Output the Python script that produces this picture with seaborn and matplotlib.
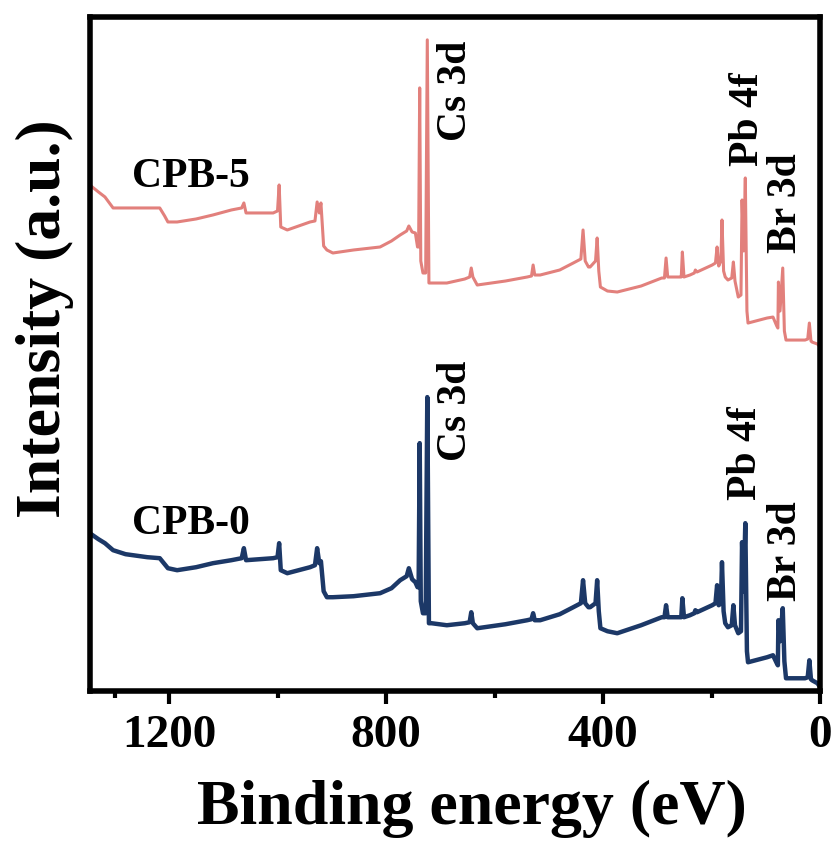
import numpy as np
import pandas as pd
import matplotlib
matplotlib.use("Agg")
import matplotlib.pyplot as plt
from matplotlib.ticker import FixedLocator
import seaborn as sns

# Survey XPS spectra, binding energy (eV) and stacked intensity (a.u.)
binding_energy = [
    1346, 1330, 1318, 1303, 1280, 1240, 1217, 1208, 1202, 1185, 1150, 1119,
    1085, 1066, 1062, 1058, 1008, 1000, 997, 994, 982, 940, 931, 927, 923,
    920, 915, 909, 898, 860, 811, 790, 774, 762, 758, 752, 746, 742, 740,
    738, 736, 732, 727, 724, 721, 716, 688, 655, 646, 643, 640, 632, 580,
    540, 532, 529, 526, 516, 480, 455, 441, 437, 433, 427, 424, 414, 411,
    408, 405, 392, 374, 330, 292, 287, 284, 281, 258, 256, 254, 251, 240,
    232, 230, 227, 199, 193, 190, 187, 183, 181, 178, 175, 170, 163, 160,
    157, 151, 146, 144, 141, 138, 135, 133, 98, 87, 80, 78, 77, 74, 69,
    66, 63, 28, 23, 20, 17, 15, 5, 0,
]
cpb0_intensity = [
    158, 152, 148, 141, 137, 134, 133, 127, 123, 121, 124, 128,
    131, 133, 143, 131, 133, 134, 148, 121, 118, 124, 126, 143, 128,
    130, 100, 94, 94, 95, 98, 103, 111, 115, 123, 112, 109, 104, 104,
    248, 90, 78, 78, 294, 68, 68, 66, 68, 69, 79, 68, 63, 67,
    71, 72, 78, 71, 71, 77, 84, 88, 111, 88, 84, 84, 88, 111,
    80, 63, 60, 58, 66, 74, 74, 86, 74, 74, 74, 93, 74, 76,
    78, 81, 79, 86, 88, 106, 86, 88, 129, 80, 68, 64, 66, 86,
    66, 58, 60, 149, 100, 168, 40, 29, 34, 36, 28, 26, 71, 50, 83,
    30, 13, 13, 14, 31, 12, 11, 8, 4,
]
cpb5_intensity = [
    506, 499, 494, 483, 483, 483, 483, 475, 469, 469, 472, 476,
    481, 483, 488, 478, 478, 480, 506, 464, 461, 469, 470, 489, 478,
    488, 445, 441, 438, 441, 444, 450, 456, 460, 465, 459, 458, 444, 444,
    603, 430, 418, 418, 651, 408, 408, 408, 412, 414, 423, 414, 406, 410,
    414, 415, 426, 416, 416, 421, 428, 432, 461, 430, 424, 424, 430, 453,
    420, 404, 400, 399, 405, 413, 413, 433, 414, 414, 414, 439, 414, 416,
    418, 421, 419, 426, 428, 444, 425, 430, 471, 420, 414, 411, 413, 429,
    410, 394, 396, 491, 440, 513, 380, 368, 373, 374, 365, 363, 409, 380, 423,
    360, 351, 351, 352, 368, 350, 349, 347, 344,
]

colors = {"CPB-0": "#1C3867", "CPB-5": "#E2807C"}
widths = {"CPB-0": 3.2, "CPB-5": 2.2}

major_ticks = [1200, 800, 400, 0]
minor_ticks = [1300, 1000, 600, 200]

# Peak assignments: (label, energy, height)
peak_labels = [
    ("Cs 3d", 671, 600), ("Pb 4f", 133, 572), ("Br 3d", 63, 488),
    ("Cs 3d", 671, 280), ("Pb 4f", 136, 238), ("Br 3d", 63, 140),
]
sample_labels = [("CPB-5", 1159, 514), ("CPB-0", 1159, 167)]

n = len(binding_energy)
df = pd.DataFrame({
    "Binding energy": binding_energy * 2,
    "Intensity": cpb0_intensity + cpb5_intensity,
    "Sample": ["CPB-0"] * n + ["CPB-5"] * n,
})

sns.set_theme(style="ticks")
plt.rcParams["font.family"] = ["Liberation Serif", "DejaVu Serif"]
plt.rcParams["font.weight"] = "bold"
plt.rcParams["text.color"] = "black"
plt.rcParams["axes.labelcolor"] = "black"
plt.rcParams["xtick.color"] = "black"
plt.rcParams["ytick.color"] = "black"

fig = plt.figure(figsize=(8.31, 8.42), dpi=100)
ax = fig.add_axes([0.108, 0.179, 0.879, 0.801])

for s in ["CPB-5", "CPB-0"]:
    sns.lineplot(
        data=df[df["Sample"] == s], x="Binding energy", y="Intensity",
        color=colors[s], linewidth=widths[s], estimator=None, sort=False,
        ax=ax, legend=False,
    )

ax.set_xlim(1346, 0)
ax.set_ylim(0, 674)

ax.xaxis.set_major_locator(FixedLocator(major_ticks))
ax.xaxis.set_minor_locator(FixedLocator(minor_ticks))
ax.set_yticks([])
ax.tick_params(axis="x", which="major", direction="out", length=9, width=3,
               labelsize=34, pad=8, colors="black")
ax.tick_params(axis="x", which="minor", direction="out", length=5, width=3,
               colors="black")
for lab in ax.get_xticklabels():
    lab.set_fontweight("bold")

for side in ["left", "right", "top", "bottom"]:
    ax.spines[side].set_visible(True)
    ax.spines[side].set_linewidth(4)
    ax.spines[side].set_color("black")

ax.set_xlabel("Binding energy (eV)", fontsize=46, fontweight="bold",
              va="center", color="black")
ax.xaxis.set_label_coords(0.523, -0.174)
ax.set_ylabel("Intensity (a.u.)", fontsize=46, fontweight="bold",
              va="center", color="black")
ax.yaxis.set_label_coords(-0.062, 0.553)

for text, e, h in peak_labels:
    ax.text(e, h, text, rotation=90, fontsize=30, fontweight="bold",
            ha="center", va="center", color="black")
for text, e, h in sample_labels:
    ax.text(e, h, text, fontsize=30, fontweight="bold", ha="center",
            va="center", color="black")

fig.savefig("out.png", dpi=100, facecolor="white")
